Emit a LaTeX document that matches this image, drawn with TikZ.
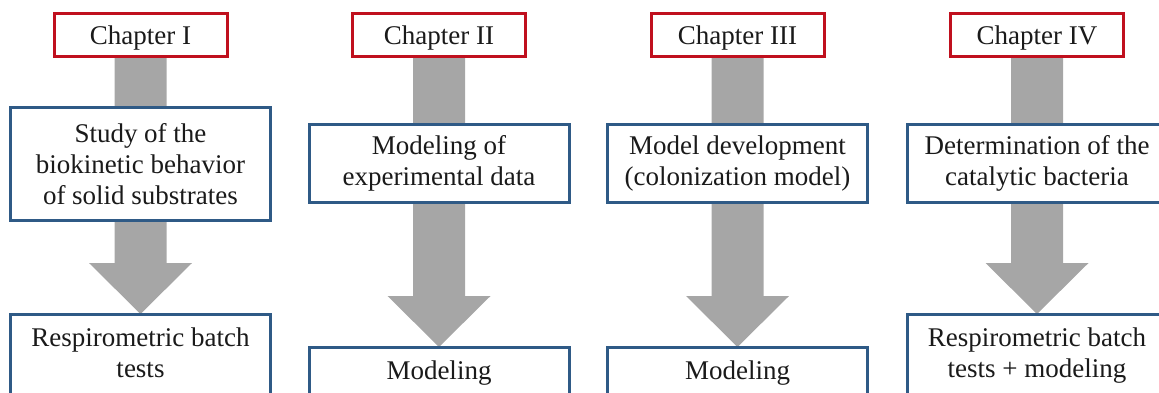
\documentclass[tikz,border=0pt]{standalone}
\usepackage{fontspec}
\setmainfont{Liberation Serif}
\usetikzlibrary{calc,backgrounds}

\definecolor{chapred}{HTML}{C0101E}
\definecolor{taskblue}{HTML}{2F5A86}
\definecolor{flowgray}{HTML}{A6A6A6}
\definecolor{ink}{HTML}{1A1A1A}

\tikzset{
  basebox/.style={draw, line width=3pt, fill=white, outer sep=0pt, inner sep=0pt,
    align=center, text=ink, font=\fontsize{27}{31}\selectfont},
  chapbox/.style={basebox, draw=chapred, minimum width=173, minimum height=43,
    text height=19, text depth=0pt},
  taskbox/.style={basebox, draw=taskblue, minimum width=260},
  resultbox/.style={basebox, draw=taskblue, minimum width=260, anchor=north,
    text depth=60},
  flow/.style={fill=flowgray},
}

% broad grey arrow running from a chapter box down to its result box
\newcommand{\chapflow}[2]{%
  \fill[flow] ($(#1.south)+(-26,0)$) -- ($(#2.north)+(-26,-51)$)
    -- ($(#2.north)+(-51.5,-51)$) -- (#2.north) -- ($(#2.north)+(51.5,-51)$)
    -- ($(#2.north)+(26,-51)$) -- ($(#1.south)+(26,0)$) -- cycle;}

\begin{document}
\begin{tikzpicture}[x=1pt,y=-1pt]
\useasboundingbox (0,0) rectangle (1159,392);

% chapter headings
\node[chapbox] (chI)   at (140.5,34.5) {Chapter I};
\node[chapbox] (chII)  at (439,34.5)   {Chapter II};
\node[chapbox] (chIII) at (737.5,34.5) {Chapter III};
\node[chapbox] (chIV)  at (1037,34.5)  {Chapter IV};

% research tasks
\node[taskbox, minimum height=113] (tI)   at (140.5,164)  {Study of the\\biokinetic behavior\\of solid substrates};
\node[taskbox, minimum height=78]  (tII)  at (439,163.5)  {Modeling of\\experimental data};
\node[taskbox, minimum height=78]  (tIII) at (737.5,163.5) {Model development\\(colonization model)};
\node[taskbox, minimum height=78]  (tIV)  at (1037,163.5) {Determination of the\\catalytic bacteria};

% outcomes
\node[resultbox, inner ysep=14] (rI)   at (140.5,314) {Respirometric batch\\tests};
\node[resultbox, inner ysep=13, text height=19] (rII)  at (439,347)   {Modeling};
\node[resultbox, inner ysep=13, text height=19] (rIII) at (737.5,347) {Modeling};
\node[resultbox, inner ysep=14] (rIV)  at (1037,314)  {Respirometric batch\\tests + modeling};

\begin{scope}[on background layer]
  \chapflow{chI}{rI}
  \chapflow{chII}{rII}
  \chapflow{chIII}{rIII}
  \chapflow{chIV}{rIV}
\end{scope}
\end{tikzpicture}
\end{document}
